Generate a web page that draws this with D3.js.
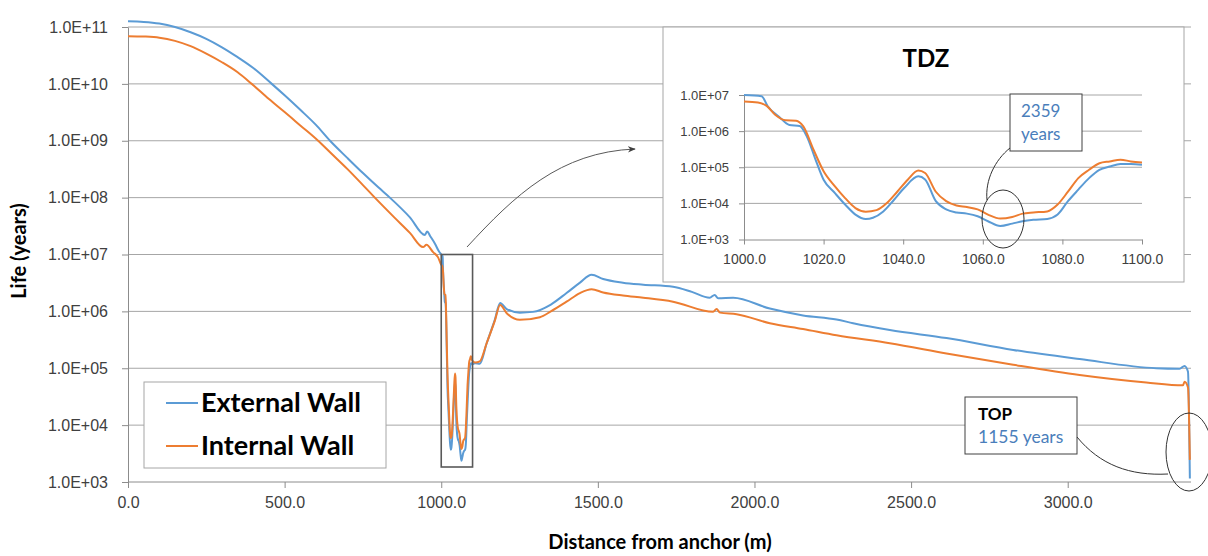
<!DOCTYPE html>
<html>
<head>
<meta charset="utf-8">
<title>Life along the wall</title>
<script src="https://d3js.org/d3.v7.min.js"></script>
<style>
  body { margin: 0; background: #fff; }
  svg { display: block; font-family: Lato, "Open Sans", sans-serif; }
  .grid line { stroke: #a6a6a6; stroke-width: 1; }
  .axis path, .axis line { stroke: #8c8c8c; }
  .axis text { fill: #404040; }
  .wall { fill: none; stroke-width: 2; stroke-linejoin: round; }
</style>
</head>
<body>
<div id="chart"></div>
<script>
// distance from anchor (m) and life (years)
var extDist = [0, 50, 100, 150, 200, 250, 300, 350, 400, 459, 500, 550, 600, 645, 700, 750, 800, 836, 900, 948, 955, 965, 980, 992,
  1000, 1004.4, 1006, 1008.8, 1011.4, 1014, 1015.8, 1018, 1020, 1022.8, 1025.4, 1028, 1030.6, 1032.4, 1035, 1037.7, 1040.3,
  1043.8, 1045.5, 1048.2, 1050.8, 1053.4, 1056, 1058.7, 1061.3, 1064.4, 1067.4, 1070, 1072.7, 1076.2, 1078.8, 1081.4, 1084,
  1086.7, 1089.3, 1091.9, 1094.6, 1097.2, 1100, 1108, 1123, 1145, 1171, 1188, 1209, 1251, 1293, 1350, 1400, 1443, 1480,
  1517, 1580, 1645, 1740, 1800, 1857, 1873, 1884, 1932, 2049, 2155, 2262, 2315, 2432, 2613, 2826, 3038, 3283, 3357, 3373, 3384, 3390];
var extLife = [1.26e11, 1.23e11, 1.15e11, 1.0e11, 8.1e10, 6.2e10, 4.4e10, 2.95e10, 1.9e10, 1.0e10, 6.3e9, 3.5e9, 1.9e9, 1.0e9, 5.0e8, 2.7e8, 1.5e8, 1.0e8, 4.5e7, 2.2e7, 2.55e7, 2.1e7, 1.55e7, 1.15e7,
  1.0e7, 9.3e6, 4.8e6, 2.5e6, 1.48e6, 1.38e6, 7.1e5, 1.6e5, 4.5e4, 1.95e4, 9.3e3, 4.9e3, 3.7e3, 4.0e3, 6.0e3, 1.26e4, 2.7e4,
  5.6e4, 4.6e4, 1.15e4, 6.8e3, 5.6e3, 5.2e3, 4.4e3, 3.2e3, 2359, 2.75e3, 3.2e3, 3.5e3, 3.7e3, 4.9e3, 1.15e4, 2.4e4,
  5.0e4, 8.5e4, 1.05e5, 1.23e5, 1.23e5, 1.17e5, 1.23e5, 1.2e5, 2.75e5, 7.1e5, 1.41e6, 1.1e6, 9.5e5, 9.8e5, 1.32e6, 2.1e6, 3.2e6, 4.4e6,
  3.7e6, 3.2e6, 2.95e6, 2.7e6, 2.2e6, 1.74e6, 1.95e6, 1.7e6, 1.74e6, 1.12e6, 8.5e5, 7.2e5, 6.2e5, 4.7e5, 3.4e5, 2.1e5, 1.45e5, 1.0e5, 9.8e4, 1.1e5, 8.7e4, 1155];

var intDist = [0, 50, 100, 150, 200, 250, 300, 350, 395, 450, 500, 550, 607, 650, 700, 750, 788, 850, 900, 942, 953, 974, 990,
  1000, 1003.5, 1005.7, 1007.9, 1010.5, 1013.1, 1014.9, 1017.5, 1020, 1022.8, 1025.4, 1028, 1030.6, 1033.3, 1035.9, 1038.5, 1041.2,
  1043.8, 1045.5, 1048.2, 1050.8, 1053.4, 1056, 1058.7, 1061.3, 1064.4, 1067.4, 1070, 1072.7, 1076.2, 1078.8, 1081.4, 1084,
  1086.7, 1089.3, 1091.9, 1094.6, 1097.2, 1100, 1108, 1123, 1145, 1171, 1188, 1209, 1251, 1315, 1350, 1400, 1443, 1480,
  1517, 1580, 1645, 1740, 1868, 1879, 1890, 1943, 2049, 2155, 2262, 2432, 2613, 2826, 3038, 3251, 3368, 3373, 3384, 3390];
var intLife = [6.9e10, 6.8e10, 6.5e10, 5.7e10, 4.6e10, 3.4e10, 2.4e10, 1.6e10, 1.0e10, 5.4e9, 3.2e9, 1.86e9, 1.0e9, 5.9e8, 3.2e8, 1.66e8, 1.0e8, 4.5e7, 2.4e7, 1.35e7, 1.48e7, 1.1e7, 8.9e6,
  6.6e6, 6.2e6, 5.0e6, 2.8e6, 2.0e6, 1.95e6, 1.35e6, 3.0e5, 7.8e4, 3.0e4, 1.4e4, 7.4e3, 5.9e3, 6.5e3, 1.02e4, 2.1e4, 4.6e4,
  8.1e4, 6.9e4, 2.1e4, 1.15e4, 8.7e3, 7.9e3, 6.8e3, 4.9e3, 3.8e3, 4.2e3, 5.2e3, 5.6e3, 6.0e3, 9.3e3, 2.1e4, 5.0e4,
  8.5e4, 1.29e5, 1.45e5, 1.62e5, 1.45e5, 1.35e5, 1.26e5, 1.32e5, 2.75e5, 6.8e5, 1.29e6, 9.3e5, 7.1e5, 7.9e5, 1.0e6, 1.48e6, 2.1e6, 2.45e6,
  2.15e6, 1.9e6, 1.74e6, 1.48e6, 9.8e5, 1.1e6, 9.5e5, 8.9e5, 6.2e5, 4.9e5, 3.8e5, 2.75e5, 1.82e5, 1.15e5, 7.6e4, 5.6e4, 5.0e4, 5.8e4, 4.6e4, 2450];

var seriesNames = ["External Wall", "Internal Wall"];
var seriesColors = ["#5b9bd5", "#ed7d31"];

var mainXTicks = [0, 500, 1000, 1500, 2000, 2500, 3000];
var mainYTicks = [1e3, 1e4, 1e5, 1e6, 1e7, 1e8, 1e9, 1e10, 1e11];
var insetXTicks = [1000, 1020, 1040, 1060, 1080, 1100];
var insetYTicks = [1e3, 1e4, 1e5, 1e6, 1e7];

var width = 1208, height = 556;

var svg = d3.select("#chart").append("svg")
  .attr("width", width)
  .attr("height", height);

function sci(v) {
  var e = Math.round(Math.log10(v));
  var m = v / Math.pow(10, e);
  return m.toFixed(1) + "E" + (e < 0 ? "-" : "+") + (Math.abs(e) < 10 ? "0" : "") + Math.abs(e);
}

var series = [
  d3.zip(extDist, extLife),
  d3.zip(intDist, intLife)
];

// ---------------- main chart ----------------
var x = d3.scaleLinear().domain([0, 3400]).range([128, 1193]);
var y = d3.scaleLog().domain([1e3, 1e11]).range([482, 27]);

svg.append("g").attr("class", "grid")
  .selectAll("line").data(mainYTicks.slice(1)).join("line")
  .attr("x1", 128).attr("x2", 1191)
  .attr("y1", d => y(d)).attr("y2", d => y(d));

var yAxis = svg.append("g").attr("class", "axis")
  .attr("transform", "translate(128,0)")
  .call(d3.axisLeft(y).tickValues(mainYTicks).tickFormat(sci).tickSize(6).tickSizeOuter(0).tickPadding(14));
yAxis.selectAll("text").style("font-size", "16px");

var xAxis = svg.append("g").attr("class", "axis")
  .attr("transform", "translate(0,482)")
  .call(d3.axisBottom(x).tickValues(mainXTicks).tickFormat(d3.format(".1f")).tickSize(6).tickSizeOuter(0).tickPadding(9));
xAxis.select(".domain").attr("d", "M128,0H1191");
xAxis.selectAll("text").style("font-size", "16px");

var line = d3.line().x(d => x(d[0])).y(d => y(d[1])).curve(d3.curveMonotoneX);

svg.selectAll("path.wall.main").data(series).join("path")
  .attr("class", "wall main")
  .attr("stroke", (d, i) => seriesColors[i])
  .attr("d", line);

// box round the TDZ
svg.append("rect")
  .attr("x", x(1000)).attr("y", y(1e7))
  .attr("width", x(1100) - x(1000)).attr("height", 467 - y(1e7))
  .attr("fill", "none").attr("stroke", "#595959").attr("stroke-width", 1.6);

// arrow to the inset
svg.append("defs").append("marker")
  .attr("id", "arrow").attr("viewBox", "0 0 10 10")
  .attr("refX", 9).attr("refY", 5)
  .attr("markerWidth", 8).attr("markerHeight", 8)
  .attr("orient", "auto")
  .append("path").attr("d", "M0,1 L10,5 L0,9 L3,5 Z").attr("fill", "#404040");

svg.append("path")
  .attr("d", "M467,247 C515,195 560,152 635,149")
  .attr("fill", "none").attr("stroke", "#595959").attr("stroke-width", 1)
  .attr("marker-end", "url(#arrow)");

// axis titles
svg.append("text")
  .attr("transform", "translate(26,251) rotate(-90)")
  .attr("text-anchor", "middle")
  .style("font-size", "20px").style("font-weight", "bold")
  .text("Life (years)");

svg.append("text")
  .attr("x", 660).attr("y", 549)
  .attr("text-anchor", "middle")
  .style("font-size", "20px").style("font-weight", "bold")
  .text("Distance from anchor (m)");

// legend
var legend = svg.append("g");
legend.append("rect")
  .attr("x", 144).attr("y", 382).attr("width", 242).attr("height", 86)
  .attr("fill", "#fff").attr("stroke", "#a6a6a6");
seriesNames.forEach(function(name, i) {
  var ly = 403 + i * 43;
  legend.append("line")
    .attr("x1", 166).attr("x2", 198).attr("y1", ly).attr("y2", ly)
    .attr("stroke", seriesColors[i]).attr("stroke-width", 2);
  legend.append("text")
    .attr("x", 201).attr("y", ly + 9)
    .style("font-size", "27px").style("font-weight", "bold")
    .text(name);
});

// TOP note
svg.append("rect")
  .attr("x", 965).attr("y", 397).attr("width", 112).attr("height", 57)
  .attr("fill", "#fff").attr("stroke", "#404040");
svg.append("text").attr("x", 978).attr("y", 420)
  .style("font-size", "17px").style("font-weight", "bold").text("TOP");
svg.append("text").attr("x", 978).attr("y", 443)
  .style("font-size", "17.5px").attr("fill", "#4a7ebb").text("1155 years");
svg.append("path")
  .attr("d", "M1077,437 C1100,465 1130,476 1168,474")
  .attr("fill", "none").attr("stroke", "#333");
svg.append("ellipse")
  .attr("cx", 1189).attr("cy", 452).attr("rx", 23).attr("ry", 39)
  .attr("fill", "none").attr("stroke", "#333");

// ---------------- inset (TDZ) ----------------
var inset = svg.append("g");
inset.append("rect")
  .attr("x", 663).attr("y", 27).attr("width", 521).attr("height", 255)
  .attr("fill", "#fff").attr("stroke", "#a6a6a6");

var ix = d3.scaleLinear().domain([1000, 1100]).range([744, 1142]);
var iy = d3.scaleLog().domain([1e3, 1e7]).range([239.5, 95]);

inset.append("text")
  .attr("x", 926).attr("y", 67)
  .attr("text-anchor", "middle")
  .style("font-size", "24px").style("font-weight", "bold")
  .text("TDZ");

inset.append("g").attr("class", "grid")
  .selectAll("line").data(insetYTicks.slice(1)).join("line")
  .attr("x1", 744).attr("x2", 1142)
  .attr("y1", d => iy(d)).attr("y2", d => iy(d));

var iyAxis = inset.append("g").attr("class", "axis")
  .attr("transform", "translate(744,0)")
  .call(d3.axisLeft(iy).tickValues(insetYTicks).tickFormat(sci).tickSize(5).tickSizeOuter(0).tickPadding(10));
iyAxis.selectAll("text").style("font-size", "13px");

var ixAxis = inset.append("g").attr("class", "axis")
  .attr("transform", "translate(0,239.5)")
  .call(d3.axisBottom(ix).tickValues(insetXTicks).tickFormat(d3.format(".1f")).tickSize(5).tickSizeOuter(0).tickPadding(10));
ixAxis.selectAll("text").style("font-size", "14px");

svg.append("clipPath").attr("id", "insetClip")
  .append("rect").attr("x", 744).attr("y", 90).attr("width", 398).attr("height", 152);

var iline = d3.line().x(d => ix(d[0])).y(d => iy(d[1])).curve(d3.curveMonotoneX);

inset.append("g").attr("clip-path", "url(#insetClip)")
  .selectAll("path").data(series.map(s => s.filter(d => d[0] >= 1000 && d[0] <= 1100))).join("path")
  .attr("class", "wall")
  .attr("stroke", (d, i) => seriesColors[i])
  .attr("d", iline);

// 2359 years note
inset.append("rect")
  .attr("x", 1010).attr("y", 94).attr("width", 72).attr("height", 57)
  .attr("fill", "#fff").attr("stroke", "#404040");
inset.append("text").attr("x", 1021).attr("y", 117)
  .style("font-size", "17px").attr("fill", "#4a7ebb").text("2359");
inset.append("text").attr("x", 1021).attr("y", 140)
  .style("font-size", "17px").attr("fill", "#4a7ebb").text("years");
inset.append("path")
  .attr("d", "M1010,148 C995,160 985,180 987,200")
  .attr("fill", "none").attr("stroke", "#333");
inset.append("ellipse")
  .attr("cx", 1003).attr("cy", 219).attr("rx", 21).attr("ry", 29)
  .attr("fill", "none").attr("stroke", "#333");
</script>
</body>
</html>
